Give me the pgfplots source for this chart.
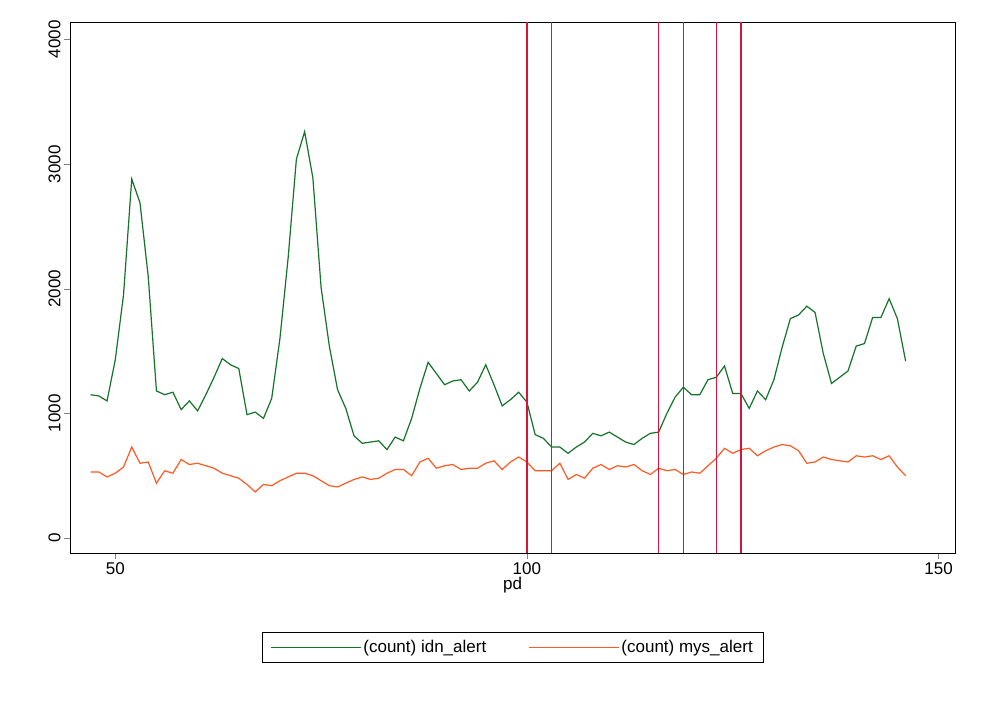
\documentclass[border=0pt]{standalone}
\usepackage{pgfplots}
\pgfplotsset{compat=1.18}
\usepackage{fontspec}
\setmainfont{Liberation Sans}
\definecolor{idn}{RGB}{20,115,40}
\definecolor{mys}{RGB}{255,90,35}
\definecolor{vl}{RGB}{215,20,60}
\begin{document}
\begin{tikzpicture}
\path[fill=white,use as bounding box] (0pt,0pt) rectangle (982pt,714pt);
\begin{axis}[at={(70pt,161pt)},anchor=south west,scale only axis,width=885pt,height=531pt,
 xmin=44.5,xmax=152,ymin=-120,ymax=4140,
 xtick={50,100,150},ytick={0,1000,2000,3000,4000},
 tick align=outside,tick pos=left,major tick length=6pt,
 /pgf/number format/assume math mode=true,
 /pgf/number format/set thousands separator={},
 ticklabel style={font=\fontsize{17}{20}\selectfont},
 yticklabel style={rotate=90,anchor=south},
 xlabel={pd},xlabel style={font=\fontsize{17}{20}\selectfont,yshift=4pt},
 axis line style={black,line width=0.8pt},
 legend columns=2,
 legend style={at={(0.5,-0.149)},anchor=north,font=\fontsize{17}{20}\selectfont,draw=black,
   inner xsep=8pt,inner ysep=6pt,/tikz/every even column/.append style={column sep=40pt}},
 legend cell align=left,
 legend image code/.code={\draw[#1,line width=1.2pt] (0pt,0pt)--(90pt,0pt);},
]
\addplot[idn,line width=1.2pt] coordinates {
(47,1150)(48,1140)(49,1100)(50,1430)(51,1950)(52,2880)(53,2690)(54,2100)(55,1180)(56,1150)(57,1170)(58,1030)(59,1100)(60,1020)(61,1150)(62,1290)(63,1440)(64,1390)(65,1360)(66,990)(67,1010)(68,960)(69,1120)(70,1600)(71,2250)(72,3040)(73,3260)(74,2890)(75,2010)(76,1540)(77,1190)(78,1040)(79,820)(80,760)(81,770)(82,780)(83,710)(84,810)(85,780)(86,960)(87,1200)(88,1410)(89,1320)(90,1230)(91,1260)(92,1270)(93,1180)(94,1250)(95,1390)(96,1230)(97,1060)(98,1110)(99,1170)(100,1090)(101,830)(102,800)(103,730)(104,730)(105,680)(106,730)(107,770)(108,840)(109,820)(110,850)(111,810)(112,770)(113,750)(114,800)(115,840)(116,850)(117,1000)(118,1130)(119,1210)(120,1150)(121,1150)(122,1270)(123,1290)(124,1380)(125,1160)(126,1160)(127,1040)(128,1180)(129,1110)(130,1270)(131,1530)(132,1760)(133,1790)(134,1860)(135,1810)(136,1480)(137,1240)(138,1290)(139,1340)(140,1540)(141,1560)(142,1770)(143,1770)(144,1920)(145,1760)(146,1420)};
\addlegendentry{(count) idn\_alert}
\addplot[mys,line width=1.2pt] coordinates {
(47,530)(48,530)(49,490)(50,520)(51,570)(52,730)(53,600)(54,610)(55,440)(56,540)(57,520)(58,630)(59,590)(60,600)(61,580)(62,560)(63,520)(64,500)(65,480)(66,430)(67,370)(68,430)(69,420)(70,460)(71,490)(72,520)(73,520)(74,500)(75,460)(76,420)(77,410)(78,440)(79,470)(80,490)(81,470)(82,480)(83,520)(84,550)(85,550)(86,500)(87,610)(88,640)(89,560)(90,580)(91,590)(92,550)(93,560)(94,560)(95,600)(96,620)(97,550)(98,610)(99,650)(100,610)(101,540)(102,540)(103,540)(104,600)(105,470)(106,510)(107,480)(108,560)(109,590)(110,550)(111,580)(112,570)(113,590)(114,540)(115,510)(116,560)(117,540)(118,550)(119,510)(120,530)(121,520)(122,580)(123,640)(124,720)(125,680)(126,710)(127,720)(128,660)(129,700)(130,730)(131,750)(132,740)(133,700)(134,600)(135,610)(136,650)(137,630)(138,620)(139,610)(140,660)(141,650)(142,660)(143,630)(144,660)(145,570)(146,500)};
\addlegendentry{(count) mys\_alert}
\addplot[vl,line width=1.2pt,forget plot] coordinates {(100,-120)(100,4140)};
\addplot[vl,line width=1.2pt,forget plot] coordinates {(103,-120)(103,4140)};
\addplot[vl,line width=1.2pt,forget plot] coordinates {(116,-120)(116,4140)};
\addplot[vl,line width=1.2pt,forget plot] coordinates {(119,-120)(119,4140)};
\addplot[vl,line width=1.2pt,forget plot] coordinates {(123,-120)(123,4140)};
\addplot[vl,line width=1.2pt,forget plot] coordinates {(126,-120)(126,4140)};
\end{axis}
\end{tikzpicture}
\end{document}
